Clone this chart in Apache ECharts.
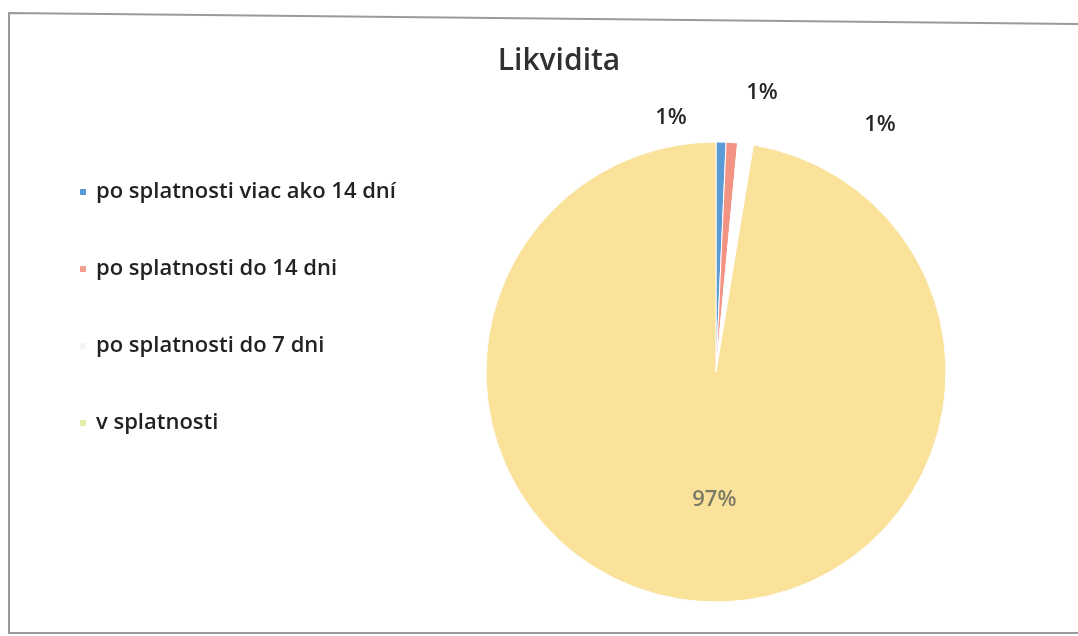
<!DOCTYPE html>
<html>
<head>
<meta charset="utf-8">
<style>
  html, body { margin: 0; padding: 0; background: #ffffff; }
  #chart { width: 1078px; height: 636px; }
</style>
<script src="https://cdn.jsdelivr.net/npm/echarts@6/dist/echarts.min.js"></script>
</head>
<body>
<div id="chart"></div>
<script>
const chartTitle = 'Likvidita';
const categories = [
  'po splatnosti viac ako 14 dní',
  'po splatnosti do 14 dni',
  'po splatnosti do 7 dni',
  'v splatnosti'
];
const values = [0.7, 0.8, 1.1, 97.4];
const sliceColors = ['#5b9bd5', '#f29383', '#ffffff', '#fae29a'];
const legendIconColors = ['#5b9bd5', '#f4a08f', '#f4f4f8', '#e6ecaa'];
// label anchor points (pixels) for the three small slices, as placed in the reference
const smallLabelAnchors = [[671, 118], [762, 93], [880, 125]];

const FONT = 'Open Sans';

const chart = echarts.init(document.getElementById('chart'), null, { renderer: 'canvas' });

const data = categories.map((name, i) => ({
  name: name,
  value: values[i],
  itemStyle: { color: sliceColors[i] },
  label: i === 3
    ? { position: 'inside', color: '#7b7a66', fontSize: 22, fontFamily: FONT, fontWeight: 600 }
    : { position: 'outside', color: '#262626', fontSize: 22, fontFamily: FONT, fontWeight: 600 },
  labelLine: { show: false }
}));

chart.setOption({
  animation: false,
  backgroundColor: '#ffffff',
  title: {
    text: chartTitle,
    left: 554,
    top: 41,
    textAlign: 'center',
    textStyle: { fontFamily: FONT, fontSize: 30, fontWeight: 600, color: '#303030' }
  },
  legend: {
    orient: 'vertical',
    left: 73,
    top: 176,
    itemWidth: 8,
    itemHeight: 8,
    itemGap: 55,
    icon: 'rect',
    data: categories.map((name, i) => ({
      name: name,
      itemStyle: { color: legendIconColors[i] }
    })),
    textStyle: { fontFamily: FONT, fontSize: 22, fontWeight: 600, color: '#222222', padding: [0, 0, 0, 4] }
  },
  graphic: [{
    type: 'polyline',
    shape: { points: [[1078, 24], [9, 13], [9, 633], [1078, 633]] },
    style: { stroke: '#9a9a9a', lineWidth: 2, fill: null },
    z: -1
  }],
  series: [{
    type: 'pie',
    center: [716, 372],
    radius: 230,
    startAngle: 90,
    clockwise: true,
    data: data,
    itemStyle: { borderColor: '#ffffff', borderWidth: 1 },
    label: {
      show: true,
      formatter: p => Math.round(p.percent) + '%'
    },
    labelLayout: function (params) {
      const a = smallLabelAnchors[params.dataIndex];
      if (a) {
        return { x: a[0], y: a[1], align: 'center', verticalAlign: 'middle' };
      }
      return { dy: 10, dx: 8 };
    },
    emphasis: { disabled: true }
  }]
});
</script>
</body>
</html>
